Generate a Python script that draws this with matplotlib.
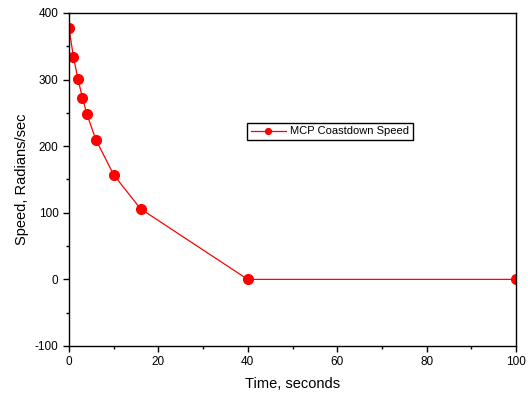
import matplotlib
matplotlib.use("Agg")
import matplotlib.pyplot as plt
from matplotlib.ticker import MultipleLocator

time_s = [0, 1, 2, 3, 4, 6, 10, 16, 40, 100]
speed = [377, 334, 301, 273, 248, 210, 157, 106, 0, 0]
series_label = "MCP Coastdown Speed"

plt.rcParams['font.family'] = ['Liberation Sans', 'DejaVu Sans']
plt.rcParams['axes.unicode_minus'] = False

fig = plt.figure(figsize=(5.28, 3.99), dpi=100)
ax = fig.add_axes([69/528, 53/399, 447/528, 333/399])
ax.plot(time_s, speed, color='#ff0000', lw=0.9, marker='o', ms=7,
        markerfacecolor='#ff0000', markeredgecolor='#ff0000', label=series_label)
ax.set_xlim(0, 100)
ax.set_ylim(-100, 400)
ax.xaxis.set_major_locator(MultipleLocator(20))
ax.xaxis.set_minor_locator(MultipleLocator(10))
ax.yaxis.set_major_locator(MultipleLocator(100))
ax.yaxis.set_minor_locator(MultipleLocator(50))
ax.tick_params(which='major', direction='out', length=4, width=1, labelsize=8.5, top=False, right=False)
ax.tick_params(which='minor', direction='out', length=2, width=1, top=False, right=False)
for s in ax.spines.values():
    s.set_linewidth(1.0)
ax.set_xlabel("Time, seconds", fontsize=10.5, labelpad=6)
ax.set_ylabel("Speed, Radians/sec", fontsize=10.5, labelpad=4)
leg = ax.legend(loc='center', bbox_to_anchor=((330-69)/447, (346-131.5)/333), fontsize=8,
                frameon=True, fancybox=False, edgecolor='black', framealpha=1,
                markerscale=0.6, handlelength=3.2, borderpad=0.35, handletextpad=0.4,
                borderaxespad=0)
leg.get_frame().set_linewidth(1.0)
fig.savefig("out.png", dpi=100)
